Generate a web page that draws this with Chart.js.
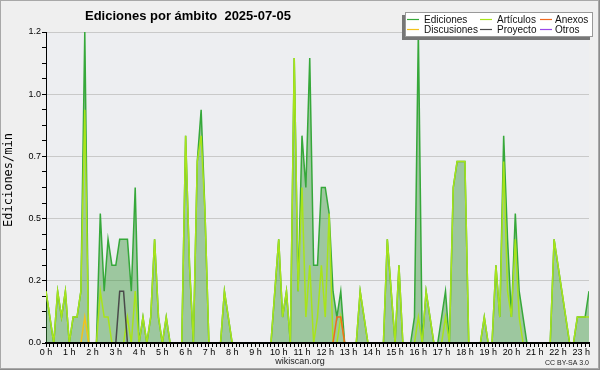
<!DOCTYPE html>
<html>
<head>
<meta charset="utf-8">
<script src="https://cdn.jsdelivr.net/npm/chart.js@4.4.1/dist/chart.umd.min.js"></script>
<style>
  html, body { margin: 0; padding: 0; background: #efefef; }
  canvas { display: block; }
</style>
</head>
<body>
<canvas id="edicionesChart" width="600" height="370"></canvas>
<script>
// 10-minute bins, 0:00 .. 23:20 (one row = one hour), values in edits/min
const ediciones = [
  0.2, 0.1, 0, 0.2, 0.1, 0.2,
  0, 0.1, 0.1, 0.2, 1.2, 0,
  0, 0, 0.5, 0.2, 0.4, 0.3,
  0.3, 0.4, 0.4, 0.4, 0.2, 0.6,
  0, 0.1, 0, 0.1, 0.4, 0.1,
  0, 0.1, 0, 0, 0, 0,
  0.8, 0.3, 0, 0.7, 0.9, 0.5,
  0, 0, 0, 0, 0.2, 0.1,
  0, 0, 0, 0, 0, 0,
  0, 0, 0, 0, 0, 0.2,
  0.4, 0.1, 0.2, 0, 1.1, 0.2,
  0.8, 0.6, 1.1, 0.3, 0.3, 0.6,
  0.6, 0.5, 0.2, 0.1, 0.2, 0,
  0, 0, 0, 0.2, 0.1, 0,
  0, 0, 0, 0, 0.4, 0.2,
  0, 0.3, 0, 0, 0, 0.1,
  1.2, 0, 0.2, 0.1, 0, 0,
  0.1, 0.2, 0, 0.6, 0.7, 0.7,
  0.7, 0, 0, 0, 0, 0.1,
  0, 0, 0.3, 0.1, 0.8, 0.4,
  0.1, 0.5, 0.2, 0.1, 0, 0,
  0, 0, 0, 0, 0, 0.4,
  0.3, 0.2, 0.1, 0, 0, 0.1,
  0.1, 0.1, 0.2
];
const articulos = [
  0.2, 0.1, 0, 0.2, 0.1, 0.2,
  0, 0.1, 0.1, 0.2, 0.9, 0,
  0, 0, 0.2, 0.1, 0.1, 0,
  0, 0, 0, 0.1, 0, 0.2,
  0, 0.1, 0, 0.1, 0.4, 0.1,
  0, 0.1, 0, 0, 0, 0,
  0.8, 0.3, 0, 0.7, 0.8, 0.5,
  0, 0, 0, 0, 0.2, 0.1,
  0, 0, 0, 0, 0, 0,
  0, 0, 0, 0, 0, 0.2,
  0.4, 0.1, 0.2, 0, 1.1, 0.2,
  0.6, 0.1, 0.3, 0, 0.1, 0.3,
  0.1, 0.5, 0, 0, 0.1, 0,
  0, 0, 0, 0.2, 0.1, 0,
  0, 0, 0, 0, 0.4, 0.2,
  0, 0.3, 0, 0, 0, 0,
  0.1, 0, 0.2, 0.1, 0, 0,
  0, 0.1, 0, 0.6, 0.7, 0.7,
  0.7, 0, 0, 0, 0, 0.1,
  0, 0, 0.3, 0.1, 0.7, 0.2,
  0.1, 0.4, 0.1, 0, 0, 0,
  0, 0, 0, 0, 0, 0.4,
  0.3, 0.2, 0.1, 0, 0, 0.1,
  0.1, 0.1, 0.1
];
const discusiones = [
  0, 0, 0, 0, 0, 0,
  0, 0, 0, 0, 0.1, 0,
  0, 0, 0, 0, 0, 0,
  0, 0, 0, 0, 0, 0,
  0, 0, 0, 0, 0, 0,
  0, 0, 0, 0, 0, 0,
  0, 0, 0, 0, 0, 0,
  0, 0, 0, 0, 0, 0,
  0, 0, 0, 0, 0, 0,
  0, 0, 0, 0, 0, 0,
  0, 0, 0, 0, 0, 0,
  0, 0, 0, 0, 0, 0,
  0, 0, 0, 0, 0, 0,
  0, 0, 0, 0, 0, 0,
  0, 0, 0, 0, 0, 0,
  0, 0, 0, 0, 0, 0,
  0, 0, 0, 0, 0, 0,
  0, 0, 0, 0, 0, 0,
  0, 0, 0, 0, 0, 0,
  0, 0, 0, 0, 0, 0,
  0, 0, 0, 0, 0, 0,
  0, 0, 0, 0, 0, 0,
  0, 0, 0, 0, 0, 0,
  0, 0, 0
];
const proyecto = [
  0, 0, 0, 0, 0, 0,
  0, 0, 0, 0, 0, 0,
  0, 0, 0, 0, 0, 0,
  0, 0.2, 0.2, 0, 0, 0,
  0, 0, 0, 0, 0, 0,
  0, 0, 0, 0, 0, 0,
  0, 0, 0, 0, 0, 0,
  0, 0, 0, 0, 0, 0,
  0, 0, 0, 0, 0, 0,
  0, 0, 0, 0, 0, 0,
  0, 0, 0, 0, 0, 0,
  0, 0, 0, 0, 0, 0,
  0, 0, 0, 0, 0, 0,
  0, 0, 0, 0, 0, 0,
  0, 0, 0, 0, 0, 0,
  0, 0, 0, 0, 0, 0,
  0, 0, 0, 0, 0, 0,
  0, 0, 0, 0, 0, 0,
  0, 0, 0, 0, 0, 0,
  0, 0, 0, 0, 0, 0,
  0, 0, 0, 0, 0, 0,
  0, 0, 0, 0, 0, 0,
  0, 0, 0, 0, 0, 0,
  0, 0, 0
];
const anexos = [
  0, 0, 0, 0, 0, 0,
  0, 0, 0, 0, 0, 0,
  0, 0, 0, 0, 0, 0,
  0, 0, 0, 0, 0, 0,
  0, 0, 0, 0, 0, 0,
  0, 0, 0, 0, 0, 0,
  0, 0, 0, 0, 0, 0,
  0, 0, 0, 0, 0, 0,
  0, 0, 0, 0, 0, 0,
  0, 0, 0, 0, 0, 0,
  0, 0, 0, 0, 0, 0,
  0, 0, 0, 0, 0, 0,
  0, 0, 0, 0.1, 0.1, 0,
  0, 0, 0, 0, 0, 0,
  0, 0, 0, 0, 0, 0,
  0, 0, 0, 0, 0, 0,
  0, 0, 0, 0, 0, 0,
  0, 0, 0, 0, 0, 0,
  0, 0, 0, 0, 0, 0,
  0, 0, 0, 0, 0, 0,
  0, 0, 0, 0, 0, 0,
  0, 0, 0, 0, 0, 0,
  0, 0, 0, 0, 0, 0,
  0, 0, 0
];
const otros = ediciones.map(() => 0); // nothing visible for "Otros"

const seriesNames = ['Ediciones', 'Artículos', 'Anexos', 'Discusiones', 'Proyecto', 'Otros'];
const seriesColors = {
    'Ediciones': '#36a83a',
    'Artículos': '#a8e41a',
    'Anexos': '#f06a20',
    'Discusiones': '#f2c21c',
    'Proyecto': '#4a4a4a',
    'Otros': '#9a48ea'
};

const minutes = ediciones.map((_, i) => i * 10);
const toPoints = arr => arr.map((v, i) => ({ x: minutes[i], y: v }));

const isMajor = v => Math.abs(v / 0.24 - Math.round(v / 0.24)) < 1e-6;

// background, title, legend box, axis title and footer texts
const decorPlugin = {
    id: 'decor',
    beforeDraw(chart) {
        const { ctx, chartArea: a } = chart;
        ctx.save();
        ctx.fillStyle = '#efefef';
        ctx.fillRect(0, 0, chart.width, chart.height);
        ctx.fillStyle = '#edeef1';
        ctx.fillRect(a.left, a.top, a.right - a.left, a.bottom - a.top);
        ctx.restore();
    },
    afterDatasetsDraw(chart) {
        // black base line over the zero values of every series
        const { ctx, chartArea: a } = chart;
        ctx.save();
        ctx.strokeStyle = '#000';
        ctx.lineWidth = 2;
        ctx.beginPath();
        ctx.moveTo(a.left - 1, a.bottom);
        ctx.lineTo(a.right, a.bottom);
        ctx.stroke();
        ctx.restore();
    },
    afterDraw(chart) {
        const { ctx } = chart;
        ctx.save();

        // title
        ctx.fillStyle = '#000';
        ctx.font = 'bold 13px "Liberation Sans"';
        ctx.textBaseline = 'alphabetic';
        ctx.textAlign = 'left';
        ctx.fillText('Ediciones por ámbito  2025-07-05', 85, 19.5);

        // y axis title
        ctx.save();
        ctx.translate(9, 180);
        ctx.rotate(-Math.PI / 2);
        ctx.textAlign = 'center';
        ctx.textBaseline = 'middle';
        ctx.font = '12px "DejaVu Sans Mono"';
        ctx.fillText('Ediciones/min', 0, 0);
        ctx.restore();

        // legend box with shadow
        ctx.fillStyle = '#777';
        ctx.fillRect(402, 15, 188, 25);
        ctx.fillStyle = '#fff';
        ctx.fillRect(405, 12, 188, 25);
        ctx.strokeStyle = '#999';
        ctx.lineWidth = 1;
        ctx.strokeRect(405.5, 12.5, 187, 24);

        const colLine = [407, 480, 540];
        const colText = [424, 497, 555];
        const rowY = [19.5, 29.5];
        ctx.font = '10px "Liberation Sans"';
        ctx.textBaseline = 'middle';
        seriesNames.forEach((name, k) => {
            const c = k % 3, r = Math.floor(k / 3);
            ctx.strokeStyle = seriesColors[name];
            ctx.lineWidth = 1.2;
            ctx.beginPath();
            ctx.moveTo(colLine[c], rowY[r]);
            ctx.lineTo(colLine[c] + 12, rowY[r]);
            ctx.stroke();
            ctx.fillStyle = '#111';
            ctx.fillText(name, colText[c], rowY[r] + 0.5);
        });

        // footer
        ctx.fillStyle = '#222';
        ctx.textBaseline = 'alphabetic';
        ctx.textAlign = 'center';
        ctx.font = '9px "Liberation Sans"';
        ctx.fillText('wikiscan.org', 300, 364);
        ctx.textAlign = 'right';
        ctx.font = '7px "Liberation Sans"';
        ctx.fillText('CC BY-SA 3.0', 589, 364.5);

        // frame
        ctx.lineWidth = 1;
        ctx.strokeStyle = '#a8a8a8';
        ctx.strokeRect(0.5, 0.5, 598, 368);
        ctx.strokeStyle = '#8c8c8c';
        ctx.beginPath();
        ctx.moveTo(599.5, 0); ctx.lineTo(599.5, 370);
        ctx.moveTo(0, 369.5); ctx.lineTo(600, 369.5);
        ctx.stroke();
        ctx.restore();
    }
};

const lineDataset = (name, values, order) => ({
    label: name,
    data: toPoints(values),
    borderColor: seriesColors[name],
    borderWidth: 1.5,
    pointRadius: 0,
    tension: 0,
    fill: false,
    order: order
});

const edicionesSet = lineDataset('Ediciones', ediciones, 6);
edicionesSet.fill = 'origin';
edicionesSet.backgroundColor = 'rgba(60, 150, 60, 0.45)';

new Chart(document.getElementById('edicionesChart').getContext('2d'), {
    type: 'line',
    data: {
        datasets: [
            edicionesSet,
            lineDataset('Artículos', articulos, 5),
            lineDataset('Discusiones', discusiones, 4),
            lineDataset('Proyecto', proyecto, 3),
            lineDataset('Anexos', anexos, 2),
            lineDataset('Otros', otros, 7)
        ]
    },
    options: {
        responsive: false,
        animation: false,
        layout: { padding: { left: 0, right: 11, top: 32, bottom: 0 } },
        plugins: {
            legend: { display: false },
            tooltip: { enabled: false },
            title: { display: false }
        },
        scales: {
            x: {
                type: 'linear',
                min: 0,
                max: 1400,
                ticks: {
                    stepSize: 10,
                    autoSkip: false,
                    maxRotation: 0,
                    minRotation: 0,
                    padding: 0,
                    color: '#000',
                    font: { family: 'Liberation Sans', size: 9 },
                    callback: v => (v % 60 === 0 ? (v / 60) + ' h' : '')
                },
                grid: { drawOnChartArea: false, drawTicks: true, tickLength: 4, tickColor: '#000', tickWidth: 1 },
                border: { color: '#000', width: 2 },
                afterFit(scale) { scale.height = 27; }
            },
            y: {
                min: 0,
                max: 1.2,
                ticks: {
                    stepSize: 0.06,
                    autoSkip: false,
                    padding: 1,
                    color: '#000',
                    font: { family: 'Liberation Sans', size: 9 },
                    callback: v => (isMajor(v) ? v.toFixed(1) : '')
                },
                grid: {
                    color: c => (c.tick && isMajor(c.tick.value) && c.tick.value > 0 ? '#c9c9c9' : 'transparent'),
                    tickColor: '#000',
                    tickLength: 4,
                    drawTicks: true
                },
                border: { color: '#000', width: 1 },
                title: { display: false },
                afterFit(scale) { scale.width = 46; }
            }
        }
    },
    plugins: [decorPlugin]
});
</script>
</body>
</html>
